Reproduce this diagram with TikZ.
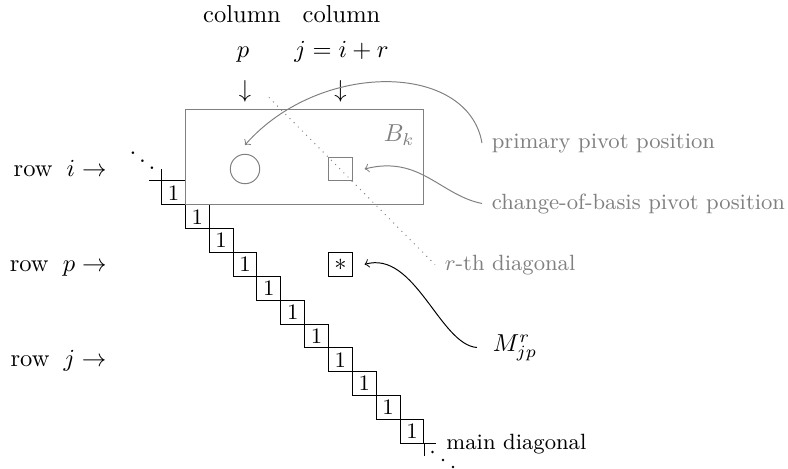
\documentclass[tikz,border=0pt]{standalone}
\begin{document}
\begin{tikzpicture}[x=0.408pt,y=-0.408pt,
  cell/.style={draw, minimum size=9.73pt, inner sep=0pt, font=\small},
  graylbl/.style={text=black!50, font=\small, inner sep=0pt, outer sep=4pt},
  plain/.style={inner sep=0pt},
  grayline/.style={draw=black!50},
  dotmark/.style={fill=black}]
\useasboundingbox (0,0) rectangle (788,469);

% main diagonal cells
\foreach \k in {1,...,11}
  \node[cell] (c\k) at ({149.6+23.85*\k},{169+23.85*\k}) {1};
\draw (c1.north west) -- +(-11.9,0);
\draw (c1.north west) -- +(0,-11.9);
\draw (c11.south east) -- +(11.9,0);
\draw (c11.south east) -- +(0,11.9);
\node[plain, anchor=base west] (dd1) at (127.7,172.1) {$\ddots$};
\fill[dotmark] (432.5,452) circle (1.35) (443,460) circle (1.35) (453,467) circle (1.35);

% block B_k
\node[grayline, minimum width=97.3pt, minimum height=38.9pt, inner sep=0pt] (Bk) at (304.65,157.1) {};
\node[plain, anchor=base east, text=black!50] (Bklbl) at (415,141.5) {$B_k$};
\node[circle, grayline, minimum size=12pt, inner sep=0pt, outer sep=3.8pt] (circ) at (245,169) {};
\node[grayline, minimum size=9.73pt, inner sep=0pt, outer sep=5pt] (sq) at (340.4,169) {};
\node[draw, minimum size=9.73pt, inner sep=0pt, outer sep=5pt] (star) at (340.4,264.4) {$*$};

% column labels
\node[plain, anchor=base] (colp) at (242,22) {column};
\node[plain, anchor=base] (p) at (243,57) {$p$};
\node[plain, anchor=base] (colj) at (341.5,22) {column};
\node[plain, anchor=base] (jir) at (341.5,57) {$j=i+r$};
\node[plain, anchor=base] (ap) at (245,97.4) {$\downarrow$};
\node[plain, anchor=base] (aj) at (340.4,97.4) {$\downarrow$};

% row labels
\node[plain, anchor=base east] (ri) at (107,176) {row\hspace{5.8pt}$i\rightarrow$};
\node[plain, anchor=base east] (rp) at (107,271.5) {row\hspace{5.8pt}$p\rightarrow$};
\node[plain, anchor=base east] (rj) at (107,366.8) {row\hspace{5.8pt}$j\rightarrow$};

% right labels
\node[graylbl, anchor=base west] (prim) at (482,148) {primary pivot position};
\node[graylbl, anchor=base west] (cob) at (482,209) {change-of-basis pivot position};
\node[graylbl, anchor=base west] (rth) at (435,270) {$r$-th diagonal};
\node[plain, outer sep=6.5pt, anchor=base west] (M) at (477,351) {$M^r_{jp}$};
\node[plain, anchor=base west, font=\small] (md) at (446,449) {main diagonal};

% connectors
\coordinate (dstart) at (268.9,97.4);
\draw[black!50, dotted] (dstart) -- (rth.west);
\draw[->, black!50] (prim.west) .. controls (468,62) and (320,60) .. (circ.north);
\draw[->, black!50] (cob.west) .. controls (440,195) and (420,155) .. (sq.east);
\draw[->] (M.west) .. controls (440,345) and (415,250) .. (star.east);
\end{tikzpicture}
\end{document}
